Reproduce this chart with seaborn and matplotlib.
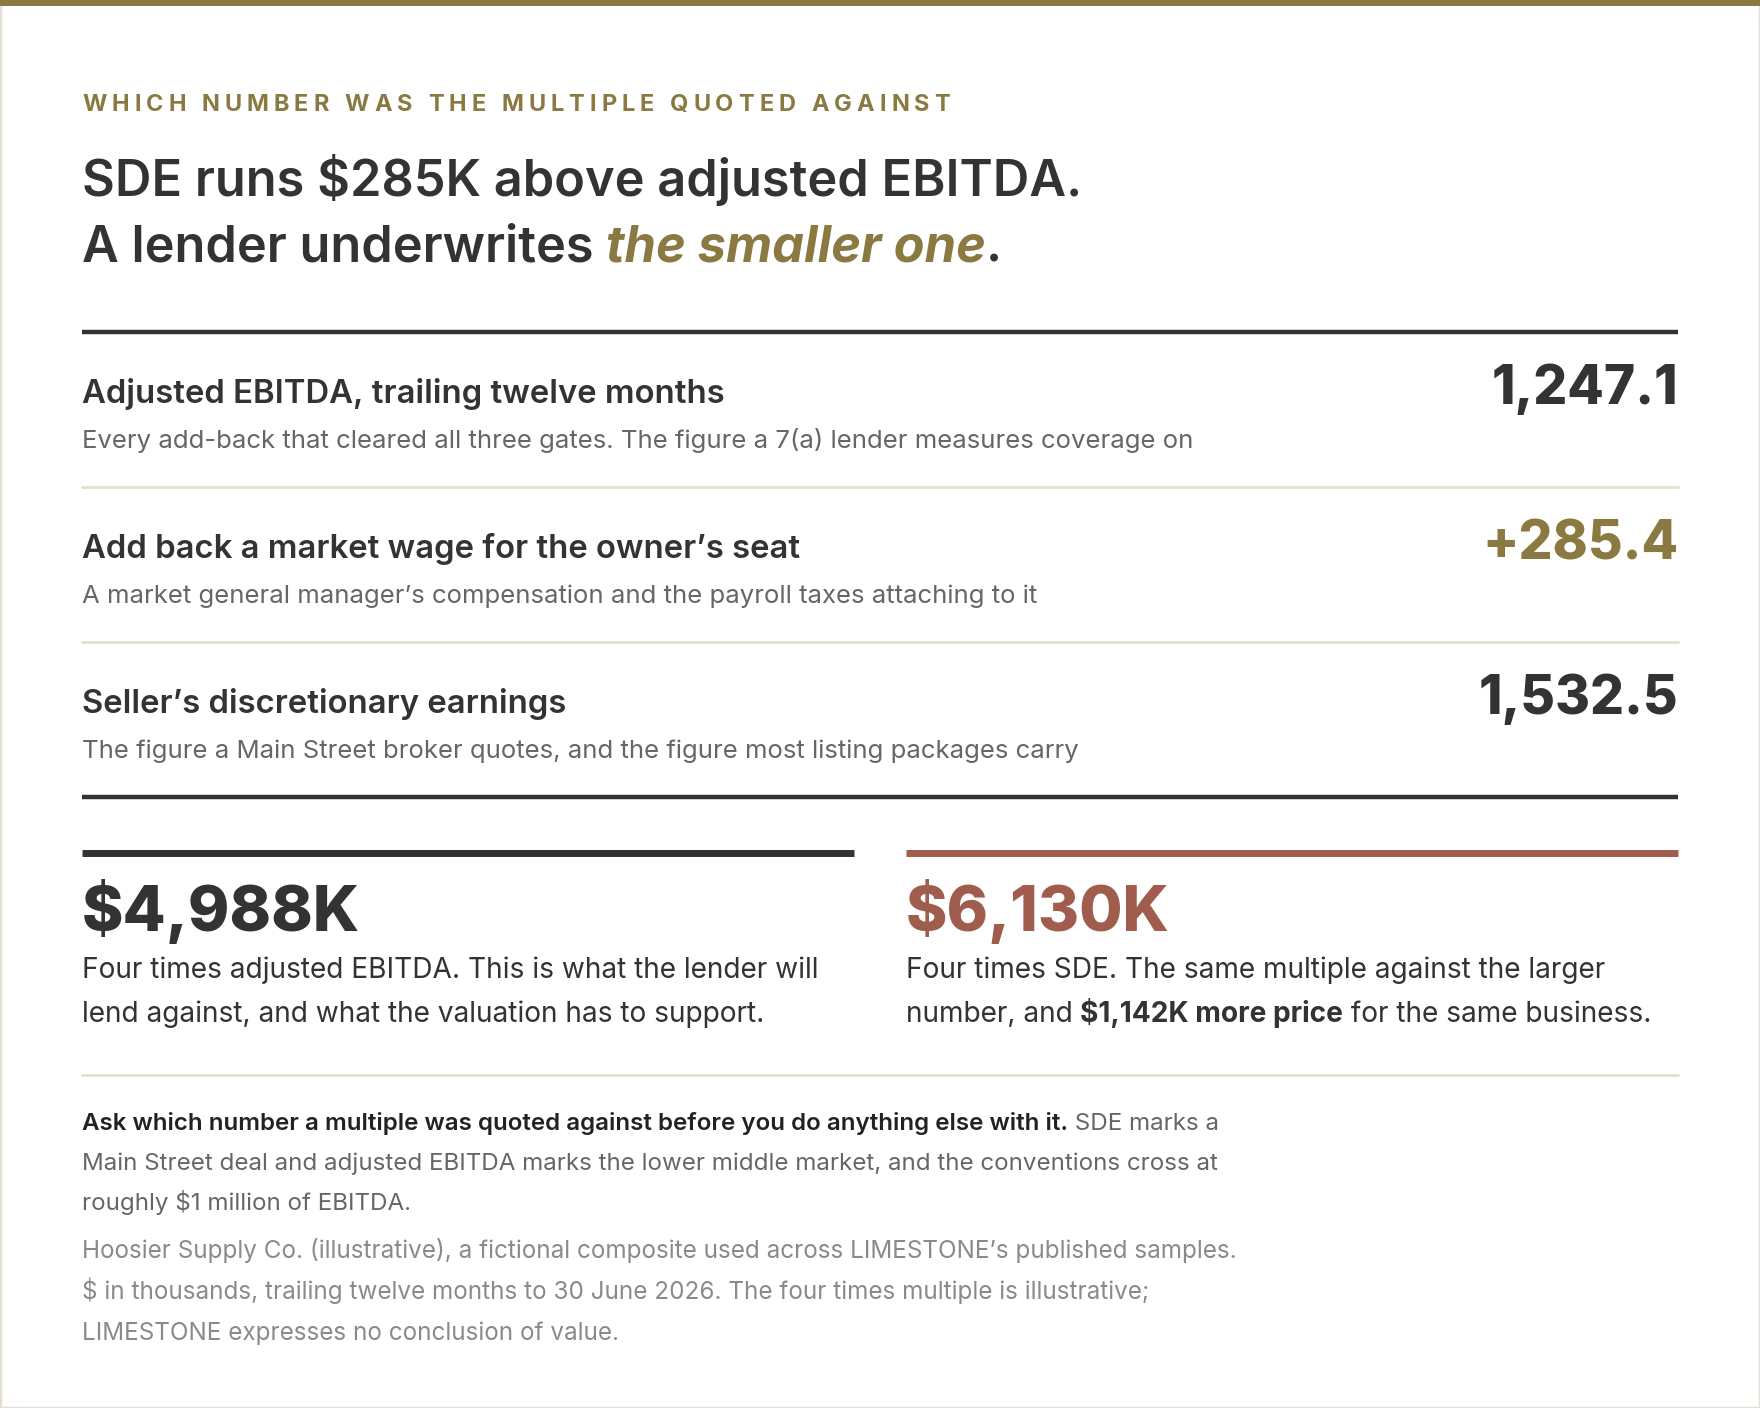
import matplotlib
matplotlib.use("Agg")
import matplotlib.pyplot as plt
import seaborn as sns

# figures, $ in thousands
row_titles = ["Adjusted EBITDA, trailing twelve months",
              "Add back a market wage for the owner\u2019s seat",
              "Seller\u2019s discretionary earnings"]
row_notes = ["Every add-back that cleared all three gates. The figure a 7(a) lender measures coverage on",
             "A market general manager\u2019s compensation and the payroll taxes attaching to it",
             "The figure a Main Street broker quotes, and the figure most listing packages carry"]
row_values = [1247.1, 285.4, 1532.5]
multiple = 4
ebitda_price = 4988
sde_price = 6130
price_gap = sde_price - ebitda_price

GOLD = "#8a7a42"
INK = "#333333"
RUST = "#a05c4c"
GREY = "#666666"
LIGHT = "#8a8a8a"
RULE = "#e6ded2"

sns.set_theme(style="white")
plt.rcParams["font.family"] = ["Inter", "DejaVu Sans"]

W, H = 1568, 1254          # layout units (the figure is 1760x1408 px)
K = 1760 / W * 0.72        # layout px -> points

fig = plt.figure(figsize=(17.6, 14.08), dpi=100)
ax = fig.add_axes([0, 0, 1, 1])
ax.set_xlim(0, W)
ax.set_ylim(H, 0)
ax.axis("off")
fig.canvas.draw()
rend = fig.canvas.get_renderer()


def width_of(s, **kw):
    t = ax.text(0, 0, "|" + s + "|", **kw)
    t2 = ax.text(0, 0, "||", **kw)
    b1 = t.get_window_extent(rend)
    b2 = t2.get_window_extent(rend)
    t.remove()
    t2.remove()
    return (b1.width - b2.width) * W / fig.bbox.width


def runs(x, y, parts, size, color=INK):
    # parts: list of (text, weight, style, color)
    for s, wt, st, c in parts:
        kw = dict(fontsize=size * K, fontweight=wt, fontstyle=st)
        ax.text(x, y, s, color=c or color, va="baseline", ha="left", **kw)
        x += width_of(s, **kw)
    return x


def spaced(x, y, s, size, track, **kw):
    for ch in s:
        ax.text(x, y, ch, fontsize=size * K, va="baseline", ha="left", **kw)
        x += width_of(ch, fontsize=size * K, fontweight=kw.get("fontweight")) + track


# frame
ax.add_patch(plt.Rectangle((0, 0), W, H, fill=False, ec=RULE, lw=2.5, zorder=0))
ax.add_patch(plt.Rectangle((0, 0), W, 5, color=GOLD, lw=0))

# eyebrow and headline
spaced(73, 99, "WHICH NUMBER WAS THE MULTIPLE QUOTED AGAINST", 21, 4.5,
       color=GOLD, fontweight="bold")
runs(73, 175, [("SDE runs $285K above adjusted EBITDA.", "semibold", "normal", INK)], 45)
runs(73, 233, [("A lender underwrites ", "semibold", "normal", INK),
               ("the smaller one", "bold", "italic", GOLD),
               (".", "semibold", "normal", INK)], 45)

# ledger
ax.plot([73, 1495], [296, 296], color=INK, lw=3.2, solid_capstyle="butt")
ax.plot([73, 1495], [710, 710], color=INK, lw=3.2, solid_capstyle="butt")
ax.plot([73, 1495], [434, 434], color=RULE, lw=2)
ax.plot([73, 1495], [572, 572], color=RULE, lw=2)

row_top = [296, 434, 572]
for i, (t, n, v) in enumerate(zip(row_titles, row_notes, row_values)):
    y0 = row_top[i]
    runs(73, y0 + 63, [(t, "semibold", "normal", INK)], 29.3)
    runs(73, y0 + 103, [(n, "normal", "normal", GREY)], 22.9)
    label = f"+{v:,.1f}" if i == 1 else f"{v:,.1f}"
    ax.text(1495, y0 + 64, label, ha="right", va="baseline",
            fontsize=47.5 * K, fontweight="heavy", color=GOLD if i == 1 else INK)

# the two prices
ax.plot([73, 761], [760, 760], color=INK, lw=5, solid_capstyle="butt")
ax.plot([807, 1495], [760, 760], color=RUST, lw=5, solid_capstyle="butt")
ax.text(73, 829, f"${ebitda_price:,}K", fontsize=56 * K, fontweight="heavy", color=INK,
        va="baseline")
ax.text(807, 829, f"${sde_price:,}K", fontsize=56 * K, fontweight="heavy", color=RUST,
        va="baseline")
runs(73, 871, [("Four times adjusted EBITDA. This is what the lender will", "normal", "normal", INK)], 25)
runs(73, 910, [("lend against, and what the valuation has to support.", "normal", "normal", INK)], 25)
runs(807, 871, [("Four times SDE. The same multiple against the larger", "normal", "normal", INK)], 25)
runs(807, 910, [("number, and ", "normal", "normal", INK),
                (f"${price_gap:,}K more price", "bold", "normal", INK),
                (" for the same business.", "normal", "normal", INK)], 25)

ax.plot([73, 1495], [957, 957], color=RULE, lw=2)

# closing note
runs(73, 1006, [("Ask which number a multiple was quoted against before you do anything else with it.", "semibold", "normal", "#222222"),
                (" SDE marks a", "normal", "normal", GREY)], 21.5)
runs(73, 1042, [("Main Street deal and adjusted EBITDA marks the lower middle market, and the conventions cross at", "normal", "normal", GREY)], 21.5)
runs(73, 1078, [("roughly $1 million of EBITDA.", "normal", "normal", GREY)], 21.5)

runs(73, 1120, [("Hoosier Supply Co. (illustrative), a fictional composite used across LIMESTONE\u2019s published samples.", "normal", "normal", LIGHT)], 21.6)
runs(73, 1157, [("$ in thousands, trailing twelve months to 30 June 2026. The four times multiple is illustrative;", "normal", "normal", LIGHT)], 21.6)
runs(73, 1193, [("LIMESTONE expresses no conclusion of value.", "normal", "normal", LIGHT)], 21.6)

fig.savefig("out.png", dpi=100, facecolor="white")
